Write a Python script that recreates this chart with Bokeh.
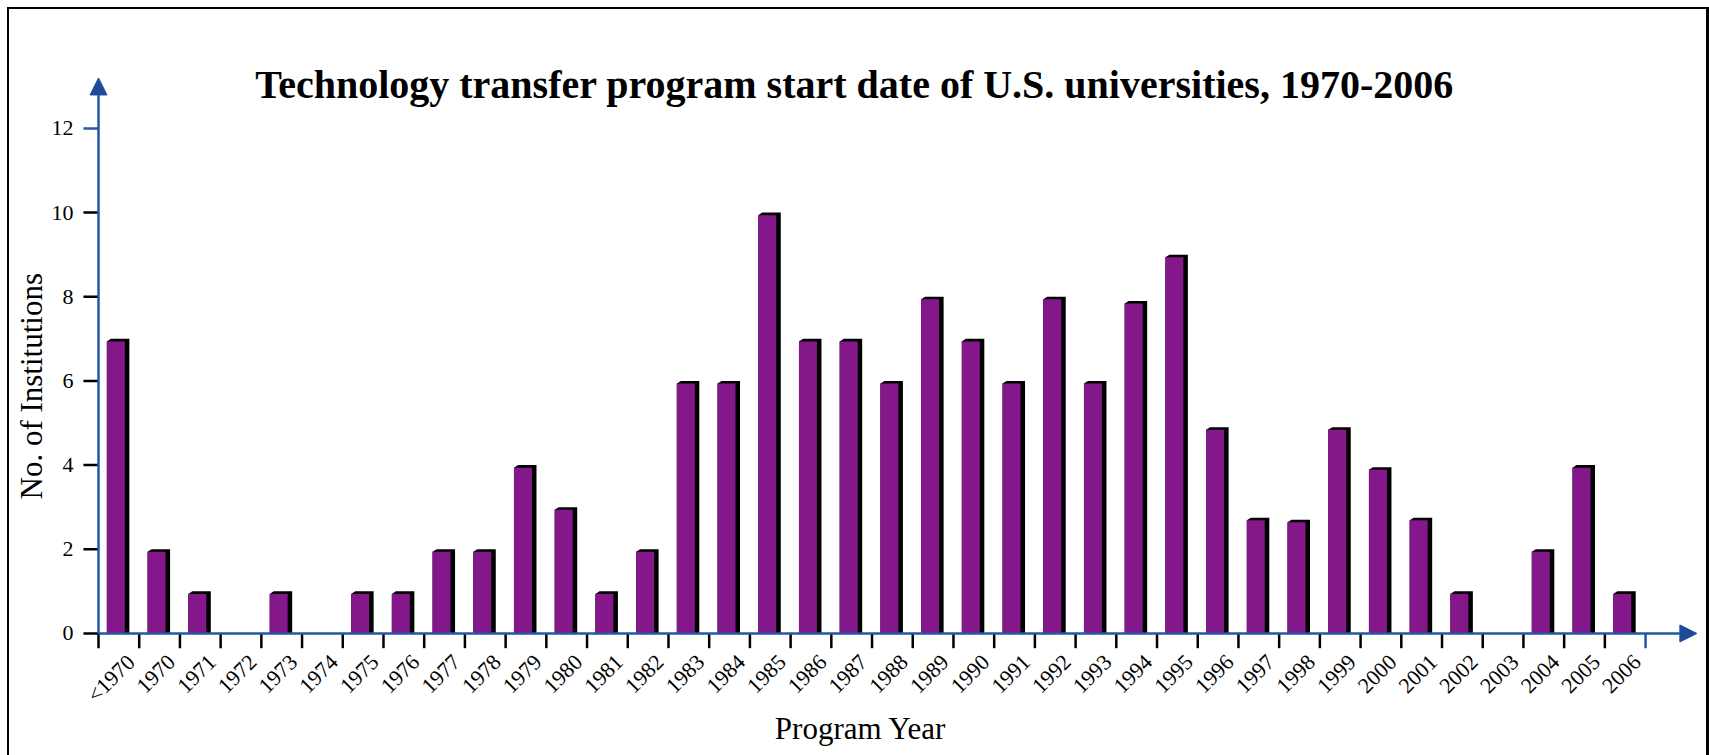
import math
from bokeh.plotting import figure
from bokeh.models import Range1d, FixedTicker, Arrow, NormalHead, Label, Title
from bokeh.core.properties import value
from bokeh.embed import file_html
from bokeh.resources import INLINE

# ---------------- data ----------------
years = ["<1970"] + [str(y) for y in range(1970, 2007)]
institutions = [7, 2, 1, 0, 1, 0, 1, 1, 2, 2, 4, 3, 1, 2, 6, 6, 10, 7, 7, 6,
                8, 7, 6, 8, 6, 7.9, 9, 4.9, 2.75, 2.7, 4.9, 3.95, 2.75, 1, 0, 2, 4, 1]
y_ticks = [0, 2, 4, 6, 8, 10, 12]

title_text = "Technology transfer program start date of U.S. universities, 1970-2006"
x_title = "Program Year"
y_title = "No. of Institutions"

# ---------------- style ----------------
PURPLE = "#84178A"
AXIS_BLUE = "#2456A4"
HEAD_BLUE = "#1D4B98"
FONT = "Liberation Serif"

n = len(years)
centers = list(range(n))

# bar geometry (in category units)
L_OFF, M_OFF, R_OFF = -0.295, 0.147, 0.258
SLANT, CAP = 0.10, 0.06

face_x, face_w, face_top = [], [], []
side_xs, side_ys = [], []
for c, v in zip(centers, institutions):
    if v <= 0:
        continue
    L, M, R = c + L_OFF, c + M_OFF, c + R_OFF
    face_x.append((L + M) / 2)
    face_w.append(M - L)
    face_top.append(v - CAP)
    side_xs.append([L, L + SLANT, R, R, L])
    side_ys.append([v - CAP, v, v, 0, 0])

X0 = -0.5          # y axis line (left edge of first category)
YTICK_LEN = 0.37   # tick length in category units

p = figure(width=1709, height=755, title=None,
           x_range=Range1d(-0.9176, 38.8), y_range=Range1d(-2.9, 14.09),
           x_axis_location=None,
           output_backend="svg", toolbar_location=None,
           min_border_left=81, min_border_right=11,
           min_border_top=40, min_border_bottom=0)
p.xgrid.visible = False
p.ygrid.visible = False
p.outline_line_color = None
p.background_fill_color = None
p.border_fill_color = None
p.styles = {"box-shadow": "inset 7px 7px 0 0 #fff, inset 9px 9px 0 0 #000, inset -3px 0 0 0 #000"}

# bars: dark side/cap first, then purple face
p.patches(xs=side_xs, ys=side_ys, fill_color="black", line_color=None)
p.vbar(x=face_x, width=face_w, top=face_top, bottom=0,
       fill_color=PURPLE, line_color=None)

# category boundary ticks below the x axis
bounds = [k - 0.5 for k in range(n + 1)]
xtick_colors = ["black"] * n + [AXIS_BLUE]
p.segment(x0=bounds, y0=[0] * len(bounds), x1=bounds, y1=[-0.35] * len(bounds),
          line_color=xtick_colors, line_width=2.5)

# y ticks left of the y axis line
ytick_colors = ["black"] * (len(y_ticks) - 1) + [AXIS_BLUE]
p.segment(x0=[X0 - YTICK_LEN] * len(y_ticks), y0=y_ticks,
          x1=[X0] * len(y_ticks), y1=y_ticks,
          line_color=ytick_colors, line_width=2.5)

# category labels, rotated
p.text(x=centers, y=[0] * n, text=years, angle=math.pi / 4,
       text_align="right", text_baseline="middle", x_offset=12, y_offset=25,
       text_font=value(FONT), text_font_size="22px", text_color="black")

# axis lines with arrowheads
p.add_layout(Arrow(end=NormalHead(size=17, fill_color=HEAD_BLUE, line_color=HEAD_BLUE),
                   x_start=X0, y_start=0, x_end=X0, y_end=13.2,
                   line_color=AXIS_BLUE, line_width=2.5))
p.add_layout(Arrow(end=NormalHead(size=17, fill_color=HEAD_BLUE, line_color=HEAD_BLUE),
                   x_start=X0, y_start=0, x_end=38.76, y_end=0,
                   line_color=AXIS_BLUE, line_width=2.5))

# y axis (labels only; tick marks drawn above)
ya = p.yaxis[0]
ya.ticker = FixedTicker(ticks=y_ticks)
ya.axis_line_color = None
ya.major_tick_out = 0
ya.major_tick_in = 0
ya.major_tick_line_color = None
ya.minor_tick_line_color = None
ya.major_label_standoff = 8
ya.major_label_text_font = FONT
ya.major_label_text_font_size = "22px"
ya.major_label_text_color = "black"

# y title on the left side
p.add_layout(Title(text=y_title, align="left", offset=256, standoff=0,
                   text_font=FONT, text_font_size="31px", text_font_style="normal",
                   text_color="black"), "left")

# main title and x title inside the frame
p.add_layout(Label(x=18.07, y=13.05, text=title_text, text_font=FONT,
                   text_font_size="40px", text_font_style="bold",
                   text_align="center", text_baseline="alphabetic", text_color="black"))
p.add_layout(Label(x=18.22, y=-2.256, text=x_title, text_font=FONT,
                   text_font_size="31px", text_align="center",
                   text_baseline="alphabetic", text_color="black"))

open("out.html", "w").write(file_html(p, INLINE))
